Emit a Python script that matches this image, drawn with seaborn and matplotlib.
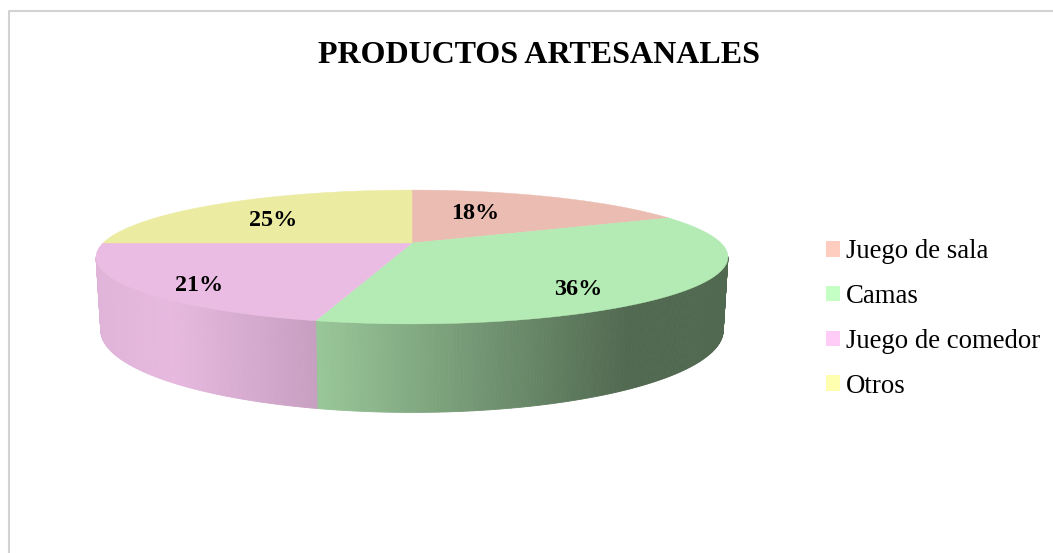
import numpy as np
import matplotlib
matplotlib.use("Agg")
import matplotlib.pyplot as plt
from matplotlib.collections import PolyCollection
from matplotlib.patches import Patch
import seaborn as sns

# Survey shares, clockwise from twelve o'clock
categories = ["Juego de sala", "Camas", "Juego de comedor", "Otros"]
shares = [18, 36, 21, 25]
base_colors = ["#FFCCC0", "#C4FFC4", "#FFCCF7", "#FFFFB0"]
label_positions = [(475.5, 213.5), (578.5, 289.5), (199.5, 285.5), (273.5, 221)]
chart_title = "PRODUCTOS ARTESANALES"

# Perspective disc, in pixel units of the full-figure axes
CX, CY = 412.0, 243.0
RX, RY = 309.0, 64.0
TILT = 0.209
DEPTH = 70.0
BASE_SHRINK = 0.985
TOP_SHADE = 0.92

sns.set_theme(style="white")
plt.rcParams["font.family"] = ["Liberation Serif", "DejaVu Serif"]


def project(theta):
    u, v = np.sin(theta), np.cos(theta)
    w = 1 + TILT * v
    return CX + RX * u / w, CY - RY * v / w, w


def project_base(theta):
    x, y, w = project(theta)
    return CX + BASE_SHRINK * (x - CX), y + DEPTH / w


def side_shade(x):
    # Cylinder lighting: brightest left of centre, darkest towards the right
    return np.interp(x, [97, 170, 327, 630, 727], [0.88, 0.905, 0.77, 0.41, 0.41])


fig = plt.figure(figsize=(10.53, 5.53), dpi=100)
ax = fig.add_axes([0, 0, 1, 1])
ax.set_xlim(0, 1053)
ax.set_ylim(553, 0)
ax.axis("off")

# Chart frame, running off the right and bottom of the figure
ax.plot([8.5, 8.5, 1060], [560, 11, 11], color="#D2D2D2", lw=1.5, zorder=1)

edges = np.deg2rad(np.cumsum([0] + shares) * 3.6)
rgb = [np.array(matplotlib.colors.to_rgb(c)) for c in base_colors]

# Outer wall: only the part of the rim that faces the viewer
for start, stop, color in zip(edges[:-1], edges[1:], rgb):
    t = np.linspace(start, stop, int(np.degrees(stop - start)) * 2 + 2)
    quads, face = [], []
    for a, b in zip(t[:-1], t[1:]):
        if np.cos((a + b) / 2) > -TILT:
            continue
        xa, ya, _ = project(a)
        xb, yb, _ = project(b)
        xc, yc = project_base(b)
        xd, yd = project_base(a)
        quads.append([(xa, ya), (xb, yb), (xc, yc), (xd, yd)])
        face.append(np.clip(color * side_shade((xa + xb) / 2), 0, 1))
    if quads:
        ax.add_collection(PolyCollection(quads, facecolors=face, edgecolors=face,
                                         linewidths=0.6, zorder=2))

# Top face of each slice
for start, stop, color in zip(edges[:-1], edges[1:], rgb):
    t = np.linspace(start, stop, 240)
    x, y, _ = project(t)
    shade = color * TOP_SHADE
    ax.fill(np.r_[CX, x], np.r_[CY, y], facecolor=shade, edgecolor=shade,
            lw=0.3, zorder=3)

for value, (lx, ly) in zip(shares, label_positions):
    ax.text(lx, ly, f"{value}%", ha="center", va="center", fontsize=17.4,
            fontweight="bold", color="black", zorder=4)

ax.text(539, 55.5, chart_title, ha="center", va="center", fontsize=23,
        fontweight="bold", color="black")

handles = [Patch(facecolor=c, edgecolor="none") for c in base_colors]
ax.legend(handles, categories, loc="center left", bbox_to_anchor=(826, 319),
          bbox_transform=ax.transData, frameon=False, fontsize=19.3,
          handlelength=0.52, handleheight=0.52, handletextpad=0.22,
          labelspacing=0.735, borderpad=0, borderaxespad=0,
          labelcolor="black")

fig.savefig("out.png", dpi=100, facecolor="white")
